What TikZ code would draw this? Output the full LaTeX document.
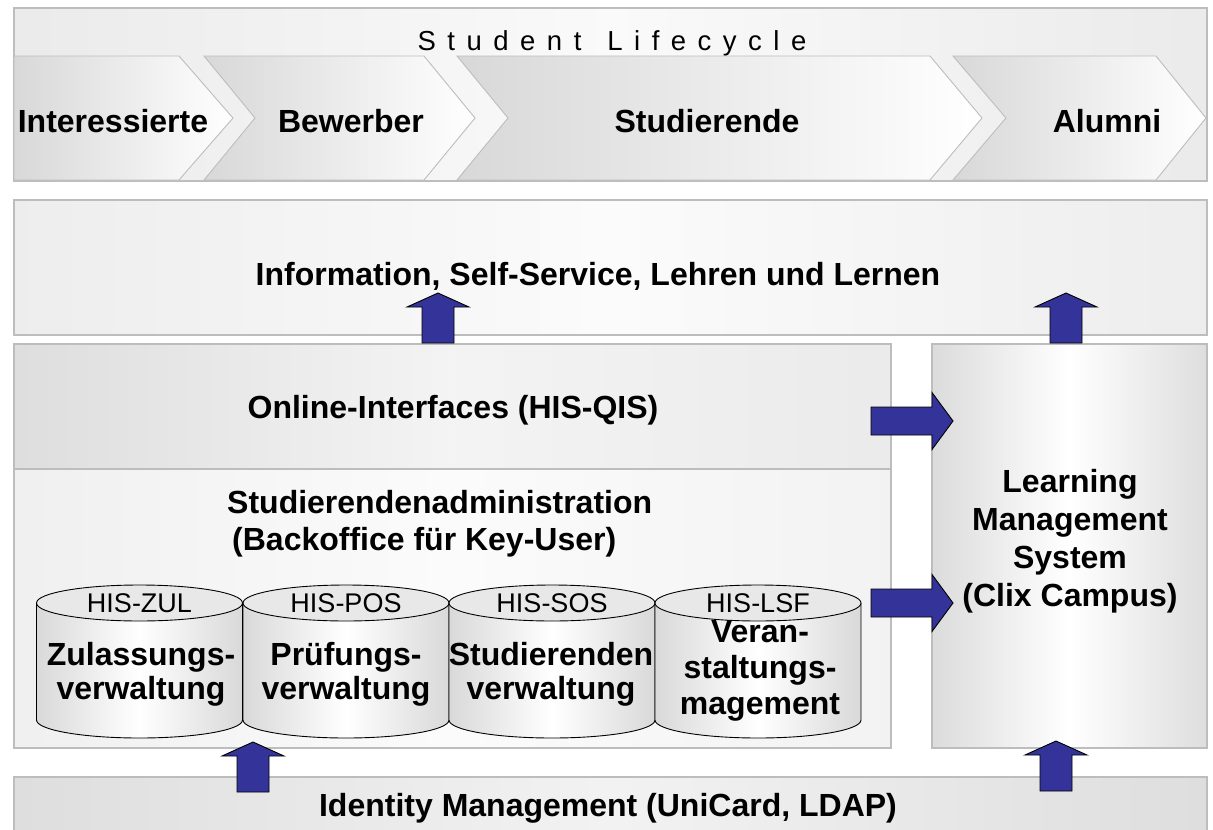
\documentclass[tikz,border=0pt]{standalone}
\usepackage{fontspec}
\setmainfont{Liberation Sans}
\definecolor{bord}{HTML}{BDBDBD}
\definecolor{navy}{HTML}{333399}
\definecolor{chevL}{HTML}{D8D8D8}
\newcommand\ls{\hspace{11.5pt}}
\newcommand\uparrowblk[1]{\draw[blockarrow] (#1) ++(-16,0) -- ++(0,-36) -- ++(-15,0) -- ++(31,-14) -- ++(31,14) -- ++(-15,0) -- ++(0,36) -- cycle;}
\newcommand\rightarrowblk[1]{\draw[blockarrow] (#1) ++(0,-14) -- ++(61,0) -- ++(0,-14.5) -- ++(21,28.5) -- ++(-21,28.5) -- ++(0,-14.5) -- ++(-61,0) -- cycle;}
\newcommand\cylblk[2]{%
  \shade[left color=#2, right color=#2, middle color=white]
    (#1-103,603) -- (#1-103,720) arc[start angle=180,end angle=0,x radius=103,y radius=18] -- (#1+103,603) -- cycle;
  \draw[cylline] (#1-103,603) -- (#1-103,720) arc[start angle=180,end angle=0,x radius=103,y radius=18] -- (#1+103,603);
  \filldraw[cylline, fill=cyltop] (#1,603) ellipse[x radius=103,y radius=18];
}
\definecolor{cyltop}{HTML}{E8E8E8}
\tikzset{
  boxline/.style={draw=bord, line width=1.3pt},
  chevline/.style={draw=bord, line width=0.9pt},
  blockarrow/.style={fill=navy, draw=black, line width=0.9pt, line join=miter},
  cylline/.style={draw=black, line width=0.9pt},
  bold/.style={font=\fontsize{32}{37}\selectfont\bfseries, align=center, inner sep=0pt},
  his/.style={font=\fontsize{27}{30}\selectfont, inner sep=0pt},
}
\begin{document}
\begin{tikzpicture}[x=1pt,y=-1pt]
\useasboundingbox (0,0) rectangle (1213,830);
\clip (0,0) rectangle (1213,830);
\fill[white] (0,0) rectangle (1213,830);

% top box
\shadedraw[boxline, left color=gray!16, right color=gray!16, middle color=gray!4] (14,8) rectangle (1207,181);
\node[font=\fontsize{27.5}{30}\selectfont, inner sep=0pt] (title) at (612,43)
  {S\ls t\ls u\ls d\ls e\ls n\ls t\hspace{26pt}L\ls i\ls f\ls e\ls c\ls y\ls c\ls l\ls e};

% chevrons
\shadedraw[chevline, left color=chevL, right color=white] (14,56) -- (179,56) -- (233,118) -- (179,180) -- (14,180) -- cycle;
\shadedraw[chevline, left color=chevL, right color=white] (204,56) -- (424,56) -- (475,118) -- (424,180) -- (204,180) -- (255,118) -- cycle;
\shadedraw[chevline, left color=chevL, right color=white] (457,56) -- (930,56) -- (982,118) -- (930,180) -- (457,180) -- (508,118) -- cycle;
\shadedraw[chevline, left color=chevL, right color=white] (953,56) -- (1156,56) -- (1206,118) -- (1156,180) -- (953,180) -- (1006,118) -- cycle;
\node[bold] (int) at (113,121) {Interessierte};
\node[bold] (bew) at (351,121) {Bewerber};
\node[bold] (stu) at (707,121) {Studierende};
\node[bold] (alu) at (1107,121) {Alumni};

% info box
\shadedraw[boxline, left color=gray!14, right color=gray!14, middle color=gray!3] (14,200) rectangle (1207,335);
\node[bold] (info) at (598,276) {Information, Self-Service, Lehren und Lernen};

% left big box
\shade[left color=gray!26, right color=gray!16, middle color=gray!9] (14,344) rectangle (891,469);
\shade[left color=gray!12, right color=gray!10, middle color=gray!3] (14,469) rectangle (891,748);
\draw[boxline] (14,344) rectangle (891,748);
\draw[boxline] (14,469) -- (891,469);
\node[bold] (online) at (453,410) {Online-Interfaces (HIS-QIS)};
\node[bold, align=left, anchor=west] (admin) at (227,524) {Studierendenadministration\\\hspace{5pt}(Backoffice für Key-User)};

% LMS box
\shadedraw[boxline, left color=gray!28, right color=gray!26, middle color=white] (932,344) rectangle (1207,748);
\node[bold, text depth=0pt] (lms) at (1070,538) {Learning\\[1pt] Management\\[1pt] System\\[1pt] (Clix Campus)};

% identity box
\shadedraw[boxline, left color=gray!26, right color=gray!26, middle color=gray!10] (14,777) rectangle (1207,840);
\node[bold] (idm) at (608,808) {Identity Management (UniCard, LDAP)};

% cylinders
\cylblk{139.5}{gray!30}
\cylblk{346}{gray!30}
\cylblk{552}{gray!30}
\cylblk{758}{gray!30}
\node[his] (zul) at (139.5,603) {HIS-ZUL};
\node[his] (pos) at (346,603) {HIS-POS};
\node[his] (sos) at (552,603) {HIS-SOS};
\node[his] (lsf) at (758,603) {HIS-LSF};
\node[bold, font=\fontsize{32}{34}\selectfont\bfseries] (zv) at (141,674) {Zulassungs-\\verwaltung};
\node[bold, font=\fontsize{32}{34}\selectfont\bfseries] (pv) at (346,674) {Prüfungs-\\verwaltung};
\node[bold, font=\fontsize{32}{34}\selectfont\bfseries] (sv) at (551,674) {Studierenden\\verwaltung};
\node[bold, font=\fontsize{32}{36}\selectfont\bfseries] (vm) at (760,671) {Veran-\\staltungs-\\magement};

% arrows
\coordinate (a1) at (438,343);
\coordinate (a2) at (1066,343);
\coordinate (a3) at (253,792);
\coordinate (a4) at (1056,791);
\coordinate (r1) at (871,421);
\coordinate (r2) at (871,603);
\uparrowblk{a1}
\uparrowblk{a2}
\uparrowblk{a3}
\uparrowblk{a4}
\rightarrowblk{r1}
\rightarrowblk{r2}
\end{tikzpicture}
\end{document}
